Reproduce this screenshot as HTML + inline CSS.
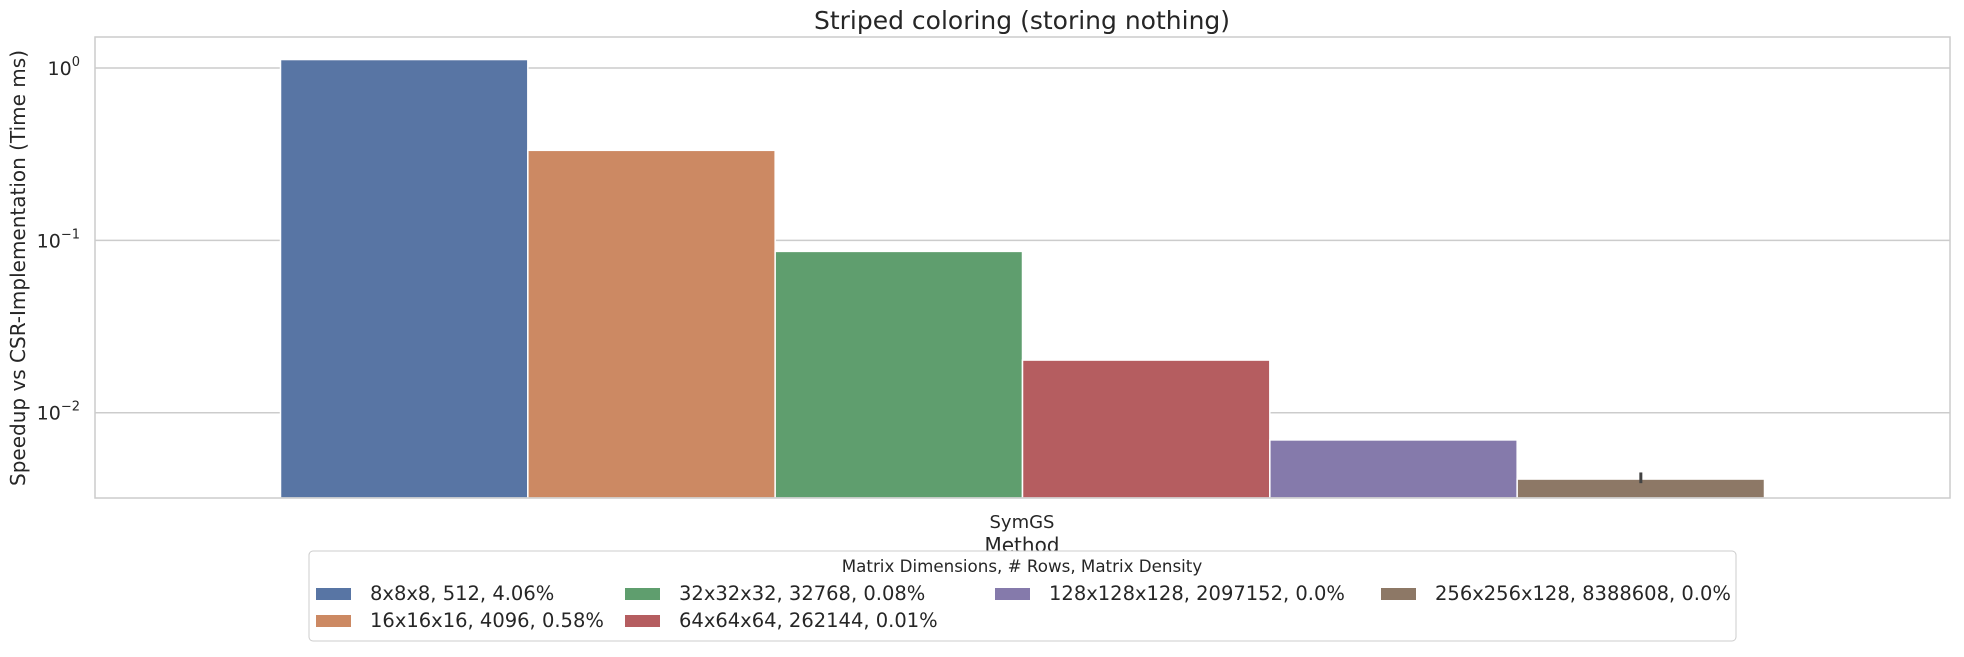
<!DOCTYPE html>
<html><head><meta charset="utf-8"><style>
body{margin:0;background:#fff;font-family:"Liberation Sans","DejaVu Sans",sans-serif;}
svg text{font-family:"DejaVu Sans","Liberation Sans",sans-serif;fill:#262626;}
</style></head><body>
<svg id="chart" width="1964" height="652" xmlns="http://www.w3.org/2000/svg">
<text x="1022" y="29" font-size="25" text-anchor="middle">Striped coloring (storing nothing)</text>
<g id="grid"></g>
<g id="bars"></g>
<rect x="95" y="37" width="1855" height="461" fill="none" stroke="#cccccc" stroke-width="1.5"/>
<g id="yticks"></g>
<text x="1022" y="528" font-size="18" text-anchor="middle">SymGS</text>
<text x="1022" y="552" font-size="20" text-anchor="middle">Method</text>
<text transform="translate(25,268) rotate(-90)" font-size="20" text-anchor="middle">Speedup vs CSR-Implementation (Time ms)</text>
<g>
<rect x="309" y="551" width="1427" height="90" rx="4" fill="#fff" stroke="#cccccc"/>
<text x="1022" y="572" font-size="16.7" text-anchor="middle">Matrix Dimensions, # Rows, Matrix Density</text>
<g id="legend"></g>
</g>
</svg>
<script>
const categories=["8x8x8, 512, 4.06%","16x16x16, 4096, 0.58%","32x32x32, 32768, 0.08%","64x64x64, 262144, 0.01%","128x128x128, 2097152, 0.0%","256x256x128, 8388608, 0.0%"];
const values=[1.12,0.333,0.0863,0.0202,0.00695,0.00412];
const errLow=[1.12,0.333,0.0863,0.0202,0.00695,0.0039];
const errHigh=[1.12,0.333,0.0863,0.0202,0.00695,0.0045];
const tickExps=[0,-1,-2];
const colors=["#5875a4","#cc8963","#5f9e6e","#b55d60","#857aab","#8d7866"];
const NS="http://www.w3.org/2000/svg";
const pTop=37,pBot=498,pLeft=95,pRight=1950;
const logMin=-2.495,logMax=0.18;
function yScale(v){return pBot-(Math.log10(v)-logMin)/(logMax-logMin)*(pBot-pTop);}
const groupW=(pRight-pLeft)*0.8,bw=groupW/categories.length,gx0=(pLeft+pRight)/2-groupW/2;
function mk(t,a,p){const e=document.createElementNS(NS,t);for(const k in a)e.setAttribute(k,a[k]);p.appendChild(e);return e;}
const grid=document.getElementById('grid'),yt=document.getElementById('yticks');
tickExps.forEach(e=>{const yy=yScale(Math.pow(10,e));
const l=mk('line',{x1:pLeft,x2:pRight,y1:yy,y2:yy,stroke:'#cccccc','stroke-width':1.5},grid);


const t=mk('text',{x:80,y:yy+7,'font-size':19,'text-anchor':'end'},yt);


t.textContent='10';const s=mk('tspan',{dy:-9,'font-size':13},t);s.textContent=String(e).replace('-','\u2212');});
const bars=document.getElementById('bars');
values.forEach((v,i)=>{const x=gx0+i*bw,yy=yScale(v);
const r=mk('rect',{x:x,y:yy,width:bw,height:pBot-yy,fill:colors[i],stroke:'#fff','stroke-width':1.5},bars);


if(errHigh[i]!==errLow[i]){const el=mk('line',{x1:x+bw/2,x2:x+bw/2,y1:yScale(errHigh[i]),y2:yScale(errLow[i]),stroke:'#424242','stroke-width':3},bars);

}});
const lg=document.getElementById('legend');
const colX=[316,625,995,1381];
const colOf=[0,0,1,1,2,3],rowOf=[0,1,0,1,0,0];
categories.forEach((c,i)=>{const x=colX[colOf[i]],yy=588+rowOf[i]*27;
const p=mk('rect',{x:x,y:yy,width:35,height:12,fill:colors[i]},lg);


const t=mk('text',{x:x+54,y:yy+12,'font-size':19.5},lg);


t.textContent=c;});
</script>
</body></html>
